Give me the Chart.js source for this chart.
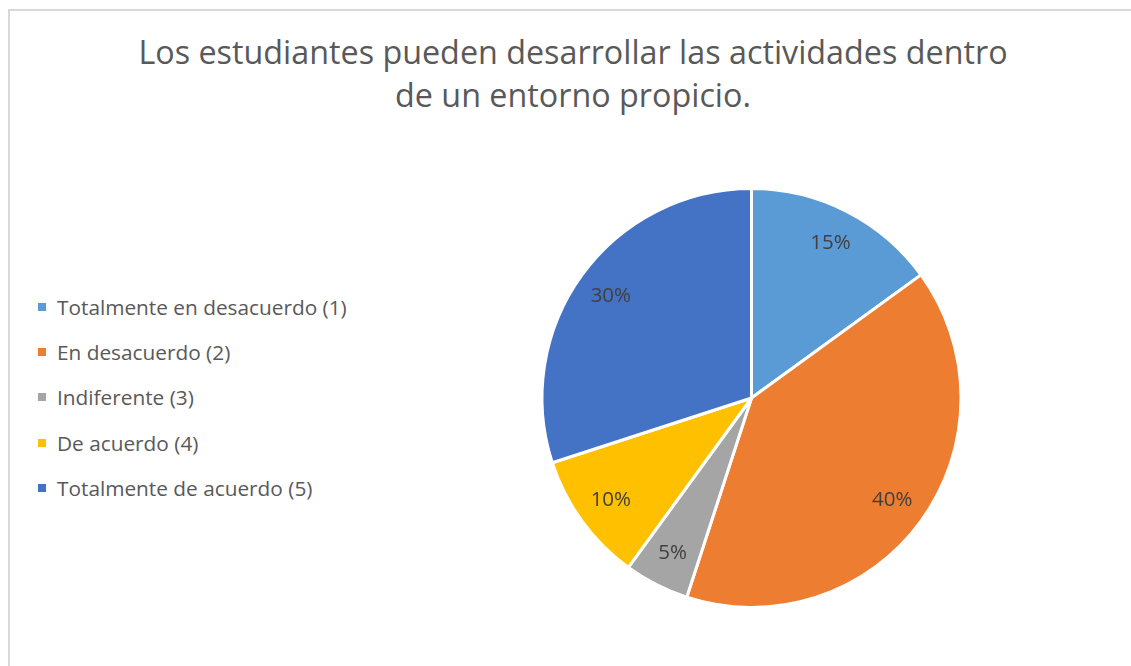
<!DOCTYPE html>
<html lang="es">
<head>
<meta charset="utf-8">
<title>Entorno propicio</title>
<script src="https://cdn.jsdelivr.net/npm/chart.js@4/dist/chart.umd.min.js"></script>
<style>
    html, body { margin: 0; padding: 0; background: #fff; }
    body { width: 1131px; height: 666px; position: relative; overflow: hidden; font-family: "Open Sans", "Noto Sans", sans-serif; color: #595959; }
    .frame { position: absolute; left: 8px; top: 9px; width: 1140px; height: 700px; border: 2px solid #d9d9d9; box-sizing: border-box; }
    .title { position: absolute; left: 0; top: 30px; width: 1146px; text-align: center; font-size: 32.3px; line-height: 43px; margin: 0; font-weight: normal; }
    #legend { position: absolute; left: 38px; top: 293px; margin: 0; padding: 0; list-style: none; font-size: 20.8px; }
    #legend li { height: 45.2px; display: flex; align-items: flex-start; line-height: 28px; }
    #legend .box { width: 8px; height: 8px; margin: 10px 11px 0 0; flex: none; }
    #pie { position: absolute; left: 0; top: 0; }
</style>
</head>
<body>
<div class="frame"></div>
<h1 class="title">Los estudiantes pueden desarrollar las actividades dentro<br>de un entorno propicio.</h1>
<ul id="legend"></ul>
<canvas id="pie" width="1131" height="666"></canvas>
<script>
const categories = [
    'Totalmente en desacuerdo (1)',
    'En desacuerdo (2)',
    'Indiferente (3)',
    'De acuerdo (4)',
    'Totalmente de acuerdo (5)'
];
const shares = [15, 40, 5, 10, 30];
const sliceColors = ['#5b9bd5', '#ed7d31', '#a5a5a5', '#ffc000', '#4472c4'];

// legend as plain html, built from the same arrays
const legendList = document.getElementById('legend');
categories.forEach((name, i) => {
    const li = document.createElement('li');
    const box = document.createElement('span');
    box.className = 'box';
    box.style.background = sliceColors[i];
    li.appendChild(box);
    li.appendChild(document.createTextNode(name));
    legendList.appendChild(li);
});

const percentLabels = {
    id: 'percentLabels',
    afterDatasetsDraw(chart) {
        const ctx = chart.ctx;
        const meta = chart.getDatasetMeta(0);
        const data = chart.data.datasets[0].data;
        const total = data.reduce((a, b) => a + b, 0);
        ctx.save();
        ctx.font = '20.5px "Open Sans", "Noto Sans", sans-serif';
        ctx.fillStyle = '#404040';
        ctx.textAlign = 'center';
        ctx.textBaseline = 'middle';
        meta.data.forEach((arc, i) => {
            const mid = (arc.startAngle + arc.endAngle) / 2;
            const r = arc.outerRadius * 0.83;
            const x = arc.x + Math.cos(mid) * r;
            const y = arc.y + Math.sin(mid) * r;
            ctx.fillText(Math.round(data[i] / total * 100) + '%', x, y);
        });
        ctx.restore();
    }
};

new Chart(document.getElementById('pie'), {
    type: 'pie',
    data: {
        labels: categories,
        datasets: [{
            data: shares,
            backgroundColor: sliceColors,
            borderColor: '#ffffff',
            borderWidth: 3,
            hoverOffset: 0
        }]
    },
    options: {
        responsive: false,
        animation: false,
        layout: { padding: { left: 540, right: 168, top: 187, bottom: 57 } },
        plugins: {
            legend: { display: false },
            title: { display: false },
            tooltip: { enabled: false }
        }
    },
    plugins: [percentLabels]
});
</script>
</body>
</html>
